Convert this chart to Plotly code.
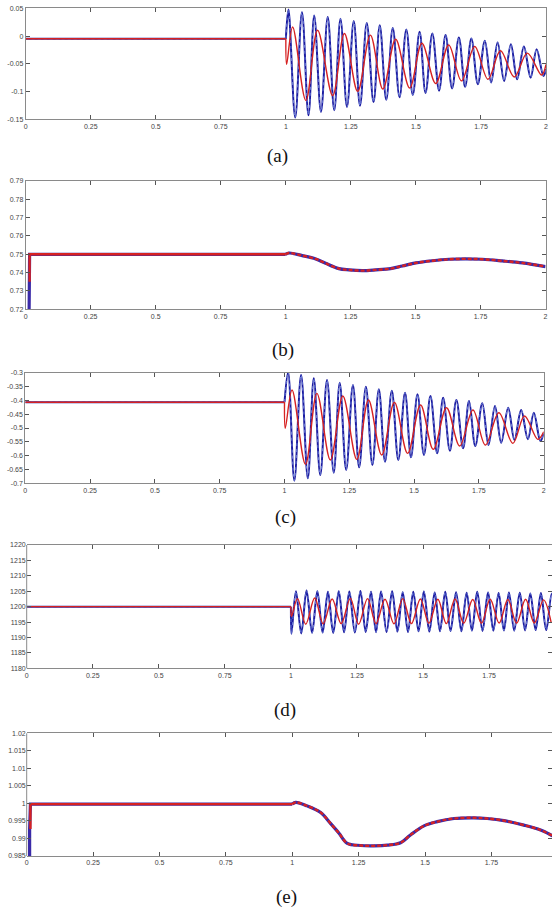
import plotly.graph_objects as go

W, H = 552, 911

x_ticks = [0, 0.25, 0.5, 0.75, 1, 1.25, 1.5, 1.75, 2]
x_labels = ['0', '0.25', '0.5', '0.75', '1', '1.25', '1.5', '1.75', '2']

# ---- panel (a) ----
a_pre_t = [0, 1.0]
a_pre_v = [-0.005, -0.005]
a_blue_t = [1.000, 1.010, 1.036, 1.062, 1.087, 1.109, 1.135, 1.161, 1.186, 1.210, 1.235,
            1.261, 1.285, 1.311, 1.337, 1.361, 1.386, 1.411, 1.437, 1.463, 1.488, 1.514,
            1.537, 1.563, 1.589, 1.614, 1.639, 1.665, 1.689, 1.713, 1.738, 1.765, 1.789,
            1.814, 1.839, 1.865, 1.889, 1.915, 1.941, 1.964, 1.990, 2.000]
a_blue_v = [-0.005, 0.0477, -0.1467, 0.0429, -0.1426, 0.0370, -0.1367, 0.0341, -0.1338,
            0.0312, -0.1279, 0.0270, -0.1255, 0.0235, -0.1190, 0.0194, -0.1149, 0.0147,
            -0.1102, 0.0117, -0.1061, 0.0076, -0.1026, 0.0047, -0.0984, 0.0017, -0.0943,
            -0.0024, -0.0914, -0.0042, -0.0867, -0.0083, -0.0837, -0.0118, -0.0808,
            -0.0148, -0.0778, -0.0189, -0.0749, -0.0236, -0.0719, -0.060]
a_red_t = [1.000, 1.003, 1.026, 1.077, 1.122, 1.180, 1.225, 1.276, 1.325, 1.373, 1.422,
           1.476, 1.523, 1.576, 1.626, 1.675, 1.726, 1.777, 1.825, 1.878, 1.928, 1.983, 2.000]
a_red_v = [-0.005, -0.051, 0.0164, -0.1161, 0.0105, -0.1073, 0.0047, -0.0996, 0.0017,
           -0.0955, -0.0059, -0.0937, -0.0130, -0.0855, -0.0160, -0.0808, -0.0189,
           -0.0778, -0.0266, -0.0737, -0.0307, -0.0702, -0.0513]
a_yticks = [-0.15, -0.1, -0.05, 0, 0.05]
a_ylabels = ['-0.15', '-0.1', '-0.05', '0', '0.05']

# ---- panel (b) ----
b_blue_pre_t = [0.012, 0.012, 0.015, 1.0]
b_blue_pre_v = [0.70, 0.735, 0.750, 0.750]
b_red_pre_t = [0.015, 0.015, 1.0]
b_red_pre_v = [0.735, 0.750, 0.750]
b_post_t = [1.000, 1.013, 1.064, 1.116, 1.154, 1.205, 1.244, 1.295, 1.347, 1.404, 1.449,
            1.501, 1.565, 1.629, 1.693, 1.757, 1.834, 1.911, 2.000]
b_post_v = [0.7500, 0.7507, 0.7493, 0.7475, 0.7451, 0.7422, 0.7415, 0.7411, 0.7415,
            0.7422, 0.7436, 0.7453, 0.7465, 0.7473, 0.7475, 0.7473, 0.7464, 0.7453, 0.7433]
b_yticks = [0.72, 0.73, 0.74, 0.75, 0.76, 0.77, 0.78, 0.79]
b_ylabels = ['0.72', '0.73', '0.74', '0.75', '0.76', '0.77', '0.78', '0.79']

# ---- panel (c) ----
c_pre_t = [0, 1.0]
c_pre_v = [-0.407, -0.407]
c_blue_t = [1.000, 1.014, 1.038, 1.064, 1.090, 1.113, 1.138, 1.164, 1.190, 1.213, 1.238,
            1.264, 1.288, 1.314, 1.339, 1.364, 1.388, 1.414, 1.439, 1.465, 1.488, 1.513,
            1.538, 1.563, 1.589, 1.612, 1.638, 1.663, 1.689, 1.712, 1.736, 1.763, 1.787,
            1.812, 1.836, 1.863, 1.887, 1.913, 1.939, 1.962, 1.987, 2.000]
c_blue_v = [-0.407, -0.298, -0.6904, -0.3084, -0.6820, -0.3205, -0.6699, -0.3265, -0.6615,
            -0.3362, -0.6519, -0.3446, -0.6422, -0.3506, -0.6338, -0.3603, -0.6217, -0.3651,
            -0.6157, -0.3723, -0.6061, -0.3783, -0.5976, -0.3844, -0.5916, -0.3904, -0.5820,
            -0.3988, -0.5735, -0.4024, -0.5651, -0.4109, -0.5615, -0.4205, -0.5531, -0.4265,
            -0.5434, -0.4350, -0.5410, -0.4446, -0.5470, -0.520]
c_red_t = [1.000, 1.003, 1.029, 1.081, 1.125, 1.177, 1.225, 1.279, 1.324, 1.375, 1.424,
           1.475, 1.525, 1.574, 1.625, 1.676, 1.727, 1.775, 1.827, 1.881, 1.926, 1.977, 2.000]
c_red_v = [-0.407, -0.501, -0.3627, -0.6314, -0.3747, -0.6157, -0.3844, -0.6133, -0.3988,
           -0.5976, -0.4072, -0.5916, -0.4169, -0.5772, -0.4265, -0.5651, -0.4350, -0.5615,
           -0.4446, -0.5555, -0.4567, -0.5410, -0.5133]
c_yticks = [-0.7, -0.65, -0.6, -0.55, -0.5, -0.45, -0.4, -0.35, -0.3]
c_ylabels = ['-0.7', '-0.65', '-0.6', '-0.55', '-0.5', '-0.45', '-0.4', '-0.35', '-0.3']

# ---- panel (d) ----
d_pre_t = [0, 1.0]
d_pre_v = [1200, 1200]
d_blue_t = [1.000, 1.002, 1.019, 1.039, 1.059, 1.080, 1.100, 1.120, 1.140, 1.160, 1.181,
            1.201, 1.221, 1.242, 1.263, 1.283, 1.303, 1.322, 1.341, 1.362, 1.383, 1.403,
            1.423, 1.443, 1.463, 1.483, 1.503, 1.524, 1.544, 1.564, 1.584, 1.604, 1.625,
            1.645, 1.665, 1.685, 1.705, 1.725, 1.746, 1.766, 1.786, 1.806, 1.825, 1.845,
            1.866, 1.886, 1.906, 1.926, 1.946, 1.966, 1.987, 2.000]
d_blue_v = [1200, 1191.2, 1205.0, 1191.3, 1205.2, 1191.5, 1205.0, 1191.6, 1204.8, 1191.5,
            1205.0, 1191.7, 1204.9, 1191.6, 1205.1, 1191.8, 1204.8, 1191.7, 1204.9, 1191.8,
            1205.0, 1191.9, 1204.7, 1191.8, 1204.8, 1192.0, 1204.9, 1191.9, 1204.6, 1192.0,
            1204.8, 1192.1, 1204.7, 1192.0, 1204.5, 1192.2, 1204.8, 1192.1, 1204.6, 1192.2,
            1204.4, 1192.3, 1204.6, 1192.2, 1204.5, 1192.3, 1204.3, 1192.4, 1204.4, 1192.4,
            1204.2, 1199.0]
d_red_t = [1.000, 1.002, 1.025, 1.056, 1.090, 1.122, 1.156, 1.190, 1.225, 1.256, 1.290,
           1.322, 1.356, 1.390, 1.423, 1.456, 1.490, 1.522, 1.556, 1.588, 1.621, 1.654,
           1.688, 1.721, 1.754, 1.788, 1.821, 1.854, 1.888, 1.921, 1.956, 1.985]
d_red_v = [1200, 1196.8, 1202.6, 1194.3, 1202.8, 1194.4, 1202.5, 1194.5, 1202.7, 1194.3,
           1202.6, 1194.5, 1202.4, 1194.4, 1202.6, 1194.5, 1202.5, 1194.6, 1202.4, 1194.5,
           1202.5, 1194.6, 1202.3, 1194.6, 1202.4, 1194.7, 1202.3, 1194.6, 1202.4, 1194.7,
           1202.2, 1194.8]
d_yticks = [1180, 1185, 1190, 1195, 1200, 1205, 1210, 1215, 1220]
d_ylabels = [str(v) for v in d_yticks]

# ---- panel (e) ----
e_blue_pre_t = [0.011, 0.011, 0.014, 1.0]
e_blue_pre_v = [0.98, 0.9927, 0.9998, 0.9998]
e_red_pre_t = [0.014, 0.014, 1.0]
e_red_pre_v = [0.9927, 0.9998, 0.9998]
e_post_t = [1.000, 1.013, 1.056, 1.107, 1.144, 1.176, 1.207, 1.257, 1.307, 1.358, 1.408,
            1.445, 1.496, 1.546, 1.609, 1.684, 1.734, 1.797, 1.872, 1.935, 1.982, 2.000]
e_post_v = [0.9998, 1.0003, 0.9993, 0.9974, 0.9943, 0.9915, 0.9886, 0.9880, 0.9879, 0.9881,
            0.9888, 0.9910, 0.9936, 0.9948, 0.9957, 0.9959, 0.9957, 0.9951, 0.9938, 0.9924,
            0.9907, 0.9900]
e_yticks = [0.985, 0.99, 0.995, 1, 1.005, 1.01, 1.015, 1.02]
e_ylabels = ['0.985', '0.99', '0.995', '1', '1.005', '1.01', '1.015', '1.02']

panel_names = ['(a)', '(b)', '(c)', '(d)', '(e)']

BLUE = '#1c1ca0'
BLUE_LIGHT = '#7d96e6'
RED = '#d62222'

fig = go.Figure()


def px_dom(x0, x1, y0, y1):
    return [x0 / W, min(x1 / W, 1)], [1 - y1 / H, 1 - y0 / H]


def osc_blue(ax, t, v, shape='spline'):
    fig.add_trace(go.Scatter(x=t, y=v, mode='lines', xaxis=ax[0], yaxis=ax[1],
                             line=dict(color=BLUE, width=2.0, shape=shape), showlegend=False))
    fig.add_trace(go.Scatter(x=t, y=v, mode='lines', xaxis=ax[0], yaxis=ax[1],
                             line=dict(color=BLUE_LIGHT, width=0.8, shape=shape, dash='3px,3px'),
                             showlegend=False))


def red(ax, t, v, shape='spline', width=1.4, dash=None):
    fig.add_trace(go.Scatter(x=t, y=v, mode='lines', xaxis=ax[0], yaxis=ax[1],
                             line=dict(color=RED, width=width, shape=shape, dash=dash),
                             showlegend=False))


def thick_blue(ax, t, v, shape='spline'):
    fig.add_trace(go.Scatter(x=t, y=v, mode='lines', xaxis=ax[0], yaxis=ax[1],
                             line=dict(color='#3a2aa8', width=3.2, shape=shape), showlegend=False))


# panel (a)
ax = ('x', 'y')
osc_blue(ax, a_pre_t, a_pre_v, 'linear')
osc_blue(ax, a_blue_t, a_blue_v)
red(ax, a_pre_t, a_pre_v, 'linear')
red(ax, a_red_t, a_red_v)

# panel (b)
ax = ('x2', 'y2')
thick_blue(ax, b_blue_pre_t, b_blue_pre_v, 'linear')
thick_blue(ax, b_post_t, b_post_v)
red(ax, b_red_pre_t, b_red_pre_v, 'linear', width=2.4)
red(ax, b_post_t, b_post_v, width=2.4, dash='4px,2px')

# panel (c)
ax = ('x3', 'y3')
osc_blue(ax, c_pre_t, c_pre_v, 'linear')
osc_blue(ax, c_blue_t, c_blue_v)
red(ax, c_pre_t, c_pre_v, 'linear')
red(ax, c_red_t, c_red_v)

# panel (d)
ax = ('x4', 'y4')
osc_blue(ax, d_pre_t, d_pre_v, 'linear')
osc_blue(ax, d_blue_t, d_blue_v)
red(ax, d_pre_t, d_pre_v, 'linear')
red(ax, d_red_t, d_red_v)

# panel (e)
ax = ('x5', 'y5')
thick_blue(ax, e_blue_pre_t, e_blue_pre_v, 'linear')
thick_blue(ax, e_post_t, e_post_v)
red(ax, e_red_pre_t, e_red_pre_v, 'linear', width=2.4)
red(ax, e_post_t, e_post_v, width=2.4, dash='4px,2px')

boxes = [
    (25.7, 546.0, 8.3, 119.3),
    (25.7, 545.5, 181.0, 309.3),
    (25.3, 543.7, 372.7, 483.3),
    (26.7, 552.0, 545.0, 668.3),
    (26.7, 552.0, 733.3, 856.0),
]
x_ranges = [[0, 2], [0, 2], [0, 2], [0, 1.988], [0, 1.978]]
y_ranges = [[-0.15, 0.05], [0.72, 0.79], [-0.7, -0.3], [1180, 1220], [0.985, 1.02]]
y_ticks = [a_yticks, b_yticks, c_yticks, d_yticks, e_yticks]
y_labels = [a_ylabels, b_ylabels, c_ylabels, d_ylabels, e_ylabels]
label_pos = [(277, 156), (283, 350), (285, 517), (285, 710), (286, 897)]

tickfont = dict(family='Liberation Sans', size=7, color='#444444')
layout = dict(width=W, height=H, margin=dict(l=0, r=0, t=0, b=0, autoexpand=False),
              paper_bgcolor='white', plot_bgcolor='white', showlegend=False)
annotations = []
shapes = []
for i in range(5):
    n = '' if i == 0 else str(i + 1)
    xd, yd = px_dom(*boxes[i])
    cut = i >= 3
    layout['xaxis' + n] = dict(domain=xd, range=x_ranges[i], anchor='y' + n,
                               tickvals=x_ticks, ticktext=x_labels, ticks='inside',
                               ticklen=4, tickcolor='#555555', showline=True,
                               linecolor='#8a8a8a', linewidth=1, mirror='ticks',
                               showgrid=False, zeroline=False, tickfont=tickfont,
                               automargin=False)
    layout['yaxis' + n] = dict(domain=yd, range=y_ranges[i], anchor='x' + n,
                               tickvals=y_ticks[i], ticktext=y_labels[i], ticks='inside',
                               ticklen=4, tickcolor='#555555', showline=not cut,
                               linecolor='#8a8a8a', linewidth=1, mirror='ticks',
                               showgrid=False, zeroline=False, tickfont=tickfont,
                               automargin=False)
    if cut:
        shapes.append(dict(type='line', xref='x' + n + ' domain', yref='y' + n + ' domain',
                           x0=0, x1=0, y0=0, y1=1, line=dict(color='#8a8a8a', width=1)))
    lx, ly = label_pos[i]
    annotations.append(dict(text=panel_names[i], x=lx / W, y=1 - ly / H, xref='paper',
                            yref='paper', showarrow=False, xanchor='center', yanchor='middle',
                            font=dict(family='Liberation Serif', size=19, color='#111111')))
layout['annotations'] = annotations
layout['shapes'] = shapes
fig.update_layout(**layout)

# the page body has a default margin; remove it so the figure sits at the corner
fig.write_html("out.html", config={'displayModeBar': False},
               post_script="document.body.style.margin='0';document.body.style.overflow='hidden';")
